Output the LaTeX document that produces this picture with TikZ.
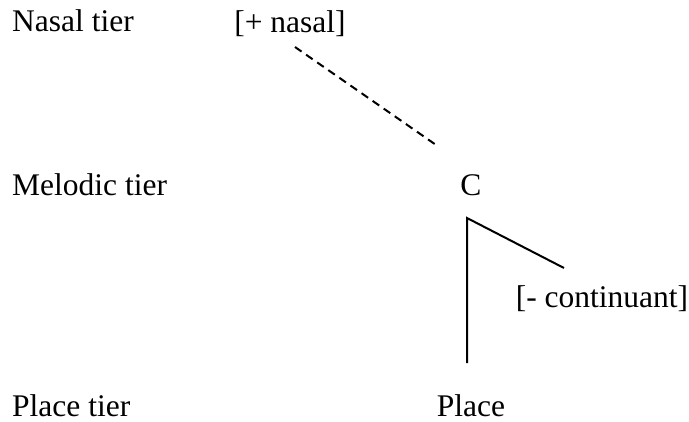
\documentclass[tikz,border=0pt]{standalone}
\usepackage{fontspec}
\setmainfont{Liberation Serif}
\begin{document}
\begin{tikzpicture}[x=1pt,y=1pt,
  lbl/.style={inner sep=0pt, font=\fontsize{31.5}{36}\selectfont},
  tierlbl/.style={lbl, anchor=base west},
  featlbl/.style={lbl, anchor=base},
  assoc/.style={line width=2pt},
  delink/.style={line width=2pt, dash pattern=on 8pt off 5.5pt}]
\useasboundingbox (0,0) rectangle (689,-421);
\node[tierlbl] (nt) at (12,-31) {Nasal tier};
\node[tierlbl] (mt) at (12,-195) {Melodic tier};
\node[tierlbl] (pt) at (12,-416) {Place tier};
\node[featlbl] (nasal) at (290,-32) {[+ nasal]};
\node[featlbl] (C) at (471,-195) {C};
\node[featlbl] (cont) at (602,-307) {[- continuant]};
\node[featlbl] (place) at (471,-416) {Place};
\coordinate (nasalend) at (295,-47);
\coordinate (Ctop) at (439,-147);
\coordinate (Croot) at (467,-218);
\coordinate (placetop) at (467,-363);
\coordinate (contend) at (564,-268);
\draw[delink] (nasalend) -- (Ctop);
\draw[assoc] (placetop) -- (Croot) -- (contend);
\end{tikzpicture}
\end{document}
